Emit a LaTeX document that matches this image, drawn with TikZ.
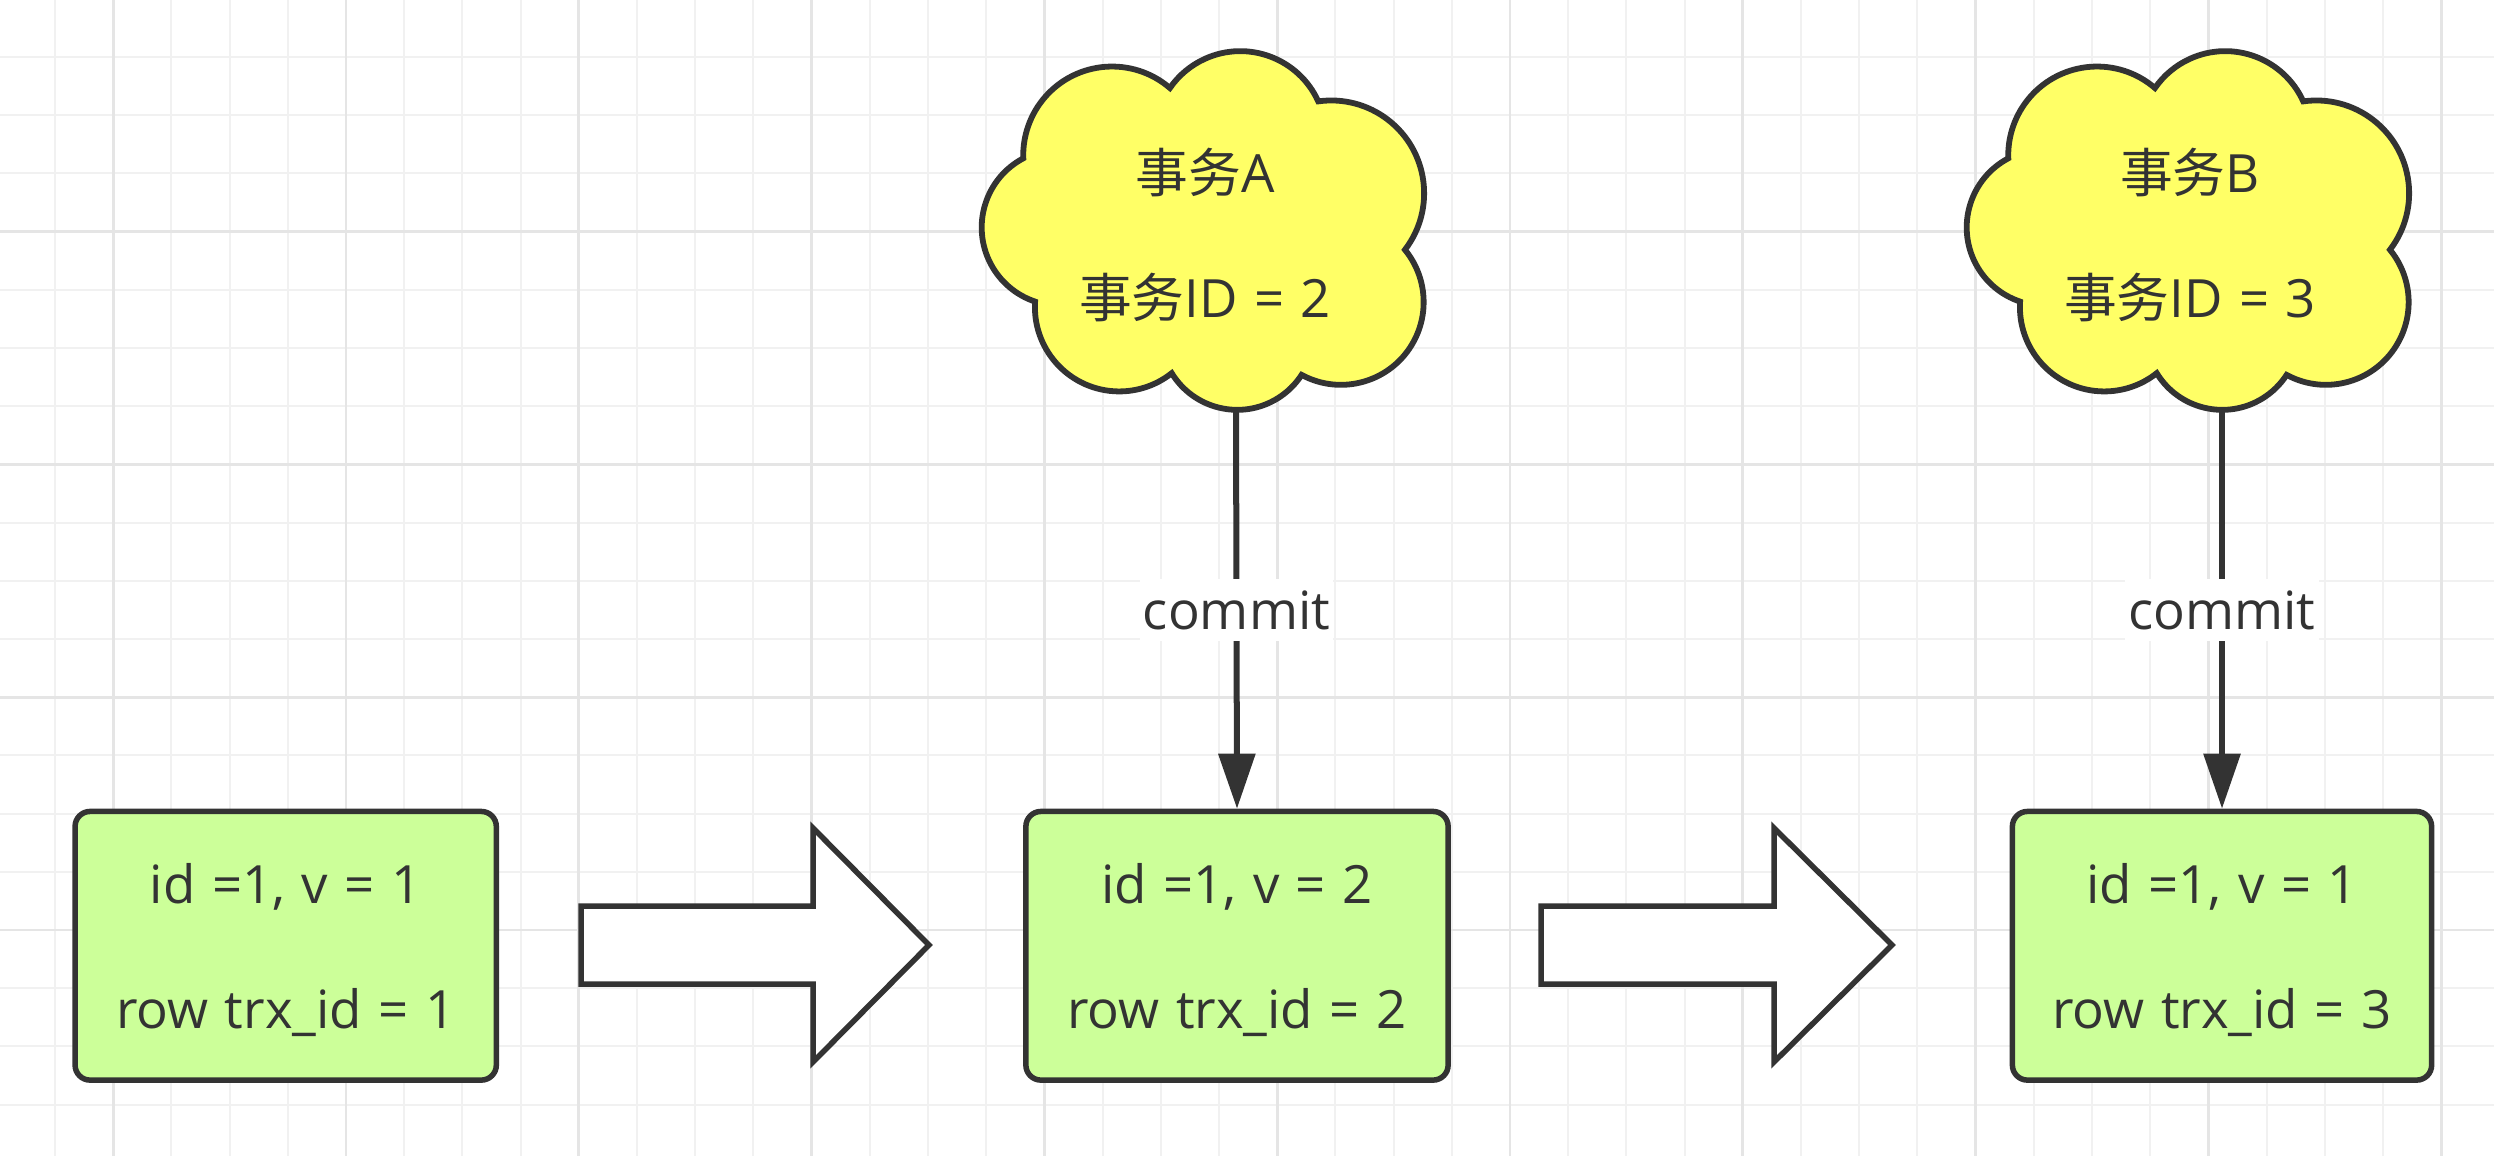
\documentclass[tikz,border=0pt]{standalone}
\usepackage{fontspec}
\setmainfont{Open Sans}[WordSpace=1.2]
\newfontfamily\cjk{Noto Sans CJK SC}
\usetikzlibrary{arrows.meta}
\definecolor{ink}{HTML}{333333}
\definecolor{boxgreen}{HTML}{CCFF99}
\definecolor{cloudyellow}{HTML}{FFFF66}
\definecolor{gridminor}{HTML}{F1F1F1}
\definecolor{gridmajor}{HTML}{E5E5E5}
\tikzset{
  gridthin/.style={draw=gridminor, line width=0.02cm},
  gridthick/.style={draw=gridmajor, line width=0.028cm},
  rowbox/.style={draw=ink, fill=boxgreen, line width=0.055cm, rounded corners=0.15cm,
    align=center, text=ink, inner sep=0pt, text depth=0pt, font=\fontsize{15}{35.6}\selectfont},
  cloudbody/.style={draw=ink, fill=cloudyellow, line width=0.058cm, line join=miter},
  cloudtext/.style={align=center, text=ink, inner sep=0pt, font=\fontsize{15}{35.3}\selectfont},
  blockarrow/.style={draw=ink, fill=white, line width=0.055cm, line join=miter},
  conn/.style={draw=ink, line width=0.06cm, -{Triangle[length=0.55cm, width=0.36cm]}},
  commitlabel/.style={fill=white, text=ink, inner xsep=0.03cm, inner ysep=0pt,
    minimum height=0.62cm, font=\fontsize{15}{17}\selectfont}
}
\begin{document}
\begin{tikzpicture}[x=0.01cm, y=-0.01cm]
\useasboundingbox (0,0) rectangle (2494,1156);
\fill[white] (0,0) rectangle (2494,1156);
\begin{scope}
\clip (0,0) rectangle (2494,1156);
\foreach \i in {0,...,42} \draw[gridthin] ({55+58.2*\i},0) -- ({55+58.2*\i},1156);
\foreach \i in {0,...,18} \draw[gridthin] (0,{57+58.2*\i}) -- (2494,{57+58.2*\i});
\foreach \i in {0,...,10} \draw[gridthick] ({113.2+232.8*\i},0) -- ({113.2+232.8*\i},1156);
\foreach \i in {0,...,4} \draw[gridthick] (0,{-1.2+232.8*\i}) -- (2494,{-1.2+232.8*\i});
\end{scope}

% clouds (seven circular lobes)
\foreach \dx in {0,985} {
\begin{scope}[shift={(\dx,0)}]
\draw[cloudbody] (1023.3,158.3)
  arc[start angle=242.1, end angle=108.5, radius=78.2]
  arc[start angle=183.7, end angle=51.6, radius=84.4]
  arc[start angle=148.5, end angle=33.0, radius=76.8]
  arc[start angle=118.4, end angle=-39.3, radius=82.7]
  arc[start angle=37.5, end angle=-98.1, radius=92.8]
  arc[start angle=-24.4, end angle=-145.3, radius=85.6]
  arc[start angle=-49.3, end angle=-181.7, radius=88.8]
  -- cycle;
\end{scope}
}
\node[cloudtext] (txA) at (1205,235) {{\cjk 事务}A\\{\cjk 事务}ID = 2};
\node[cloudtext] (txB) at (2190,235) {{\cjk 事务}B\\{\cjk 事务}ID = 3};
\coordinate (cA) at (1236,412);
\coordinate (cB) at (2222,412);

% row boxes
\node[rowbox, minimum width=4.21cm, minimum height=2.685cm] (r1) at (285.7,945.75) {id =1, v = 1\\row trx\_id = 1};
\node[rowbox, minimum width=4.22cm, minimum height=2.685cm] (r2) at (1237,945.75) {id =1, v = 2\\row trx\_id = 2};
\node[rowbox, minimum width=4.19cm, minimum height=2.685cm] (r3) at (2222,945.75) {id =1, v = 1\\row trx\_id = 3};

% block arrows
\draw[blockarrow] (581,906) -- (813,906) -- (813,828) -- (929,945) -- (813,1062) -- (813,984) -- (581,984) -- cycle;
\draw[blockarrow] (1541,906) -- (1774,906) -- (1774,828) -- (1892,945) -- (1774,1062) -- (1774,984) -- (1541,984) -- cycle;

% commit connectors
\draw[conn] (cA) -- (r2.north) node[commitlabel, pos=0.5] (lA) {commit};
\draw[conn] (cB) -- (r3.north) node[commitlabel, pos=0.5] (lB) {commit};
\end{tikzpicture}
\end{document}
